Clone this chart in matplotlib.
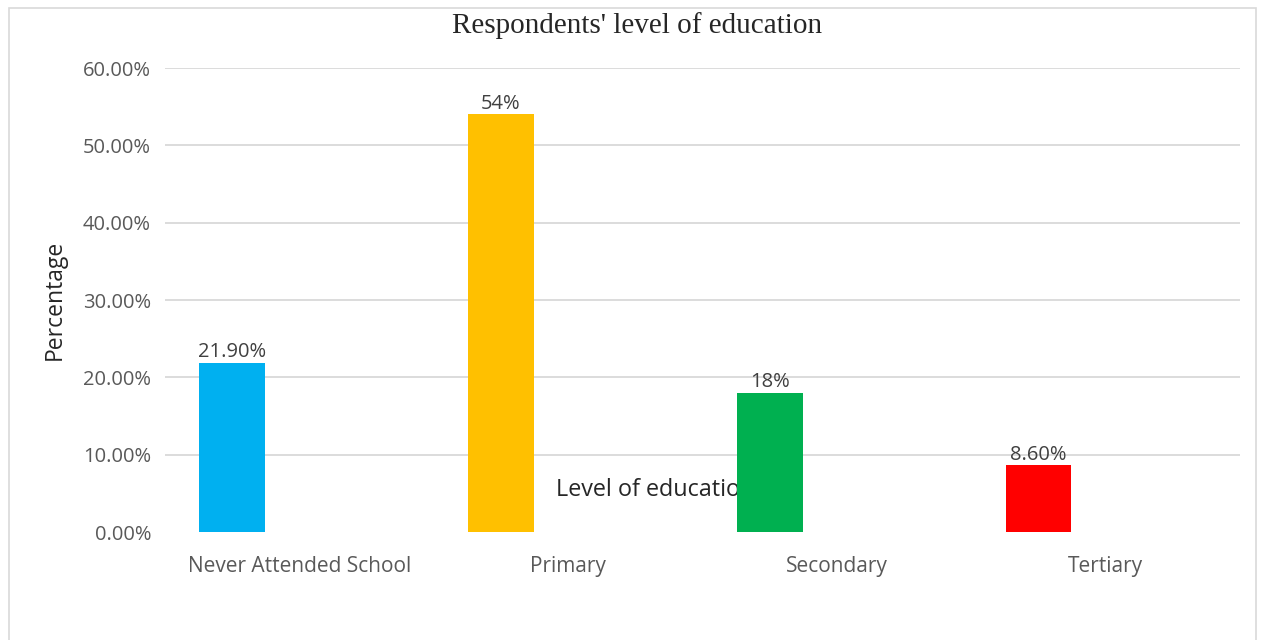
import matplotlib
matplotlib.use("Agg")
import matplotlib.pyplot as plt
from matplotlib.patches import Rectangle
from matplotlib.ticker import FixedLocator, FixedFormatter

categories = ["Never Attended School", "Primary", "Secondary", "Tertiary"]
values = [21.9, 54.0, 18.0, 8.6]
value_labels = ["21.90%", "54%", "18%", "8.60%"]
colors = ["#00B0F0", "#FFC000", "#00B050", "#FF0000"]
yticks = [0, 10, 20, 30, 40, 50, 60]
ytick_labels = ["0.00%", "10.00%", "20.00%", "30.00%", "40.00%", "50.00%", "60.00%"]

plt.rcParams['font.family'] = ['Open Sans', 'DejaVu Sans']

fig = plt.figure(figsize=(12.65, 6.4), dpi=100)
fig.patch.set_facecolor("white")
fig.add_artist(Rectangle((9/1265, -0.05), (1256-9)/1265, 1.05 - 8/640,
                         transform=fig.transFigure, fill=False,
                         edgecolor="#D9D9D9", lw=1.2))

ax = fig.add_axes([165/1265, 1-532/640, (1240-165)/1265, (532-68)/640])
x = list(range(len(categories)))
bx = [i - 0.25 for i in x]
bars = ax.bar(bx, values, width=0.245, color=colors, zorder=3)
for xi, v, lab in zip(bx, values, value_labels):
    ax.text(xi, v + 0.1, lab, ha="center", va="bottom", fontsize=14.5,
            color="#404040", zorder=4)

ax.set_xlim(-0.5, 3.5)
ax.set_ylim(0, 60)
ax.yaxis.set_major_locator(FixedLocator(yticks))
ax.yaxis.set_major_formatter(FixedFormatter(ytick_labels))
ax.set_xticks(x)
ax.set_xticklabels(categories)
ax.tick_params(axis="both", length=0, labelsize=14.5, labelcolor="#595959")
ax.tick_params(axis="x", pad=17, labelsize=15)
ax.tick_params(axis="y", pad=10)
for s in ax.spines.values():
    s.set_visible(False)
ax.grid(axis="y", color="#D9D9D9", lw=1.3, zorder=0)
ax.set_axisbelow(True)
fig.canvas.draw()
ax.yaxis.get_gridlines()[0].set_visible(False)

ax.set_ylabel("Percentage", fontsize=16.5, color="#262626", labelpad=12)

ax.text(0.955, 5.4, "Level of education", ha="left", va="center",
        fontsize=16.8, color="#262626", zorder=1)

fig.text(637/1265, 1-26/640, "Respondents' level of education", ha="center",
         va="center", fontsize=21, family="Liberation Serif", color="#262626")

fig.savefig("out.png", dpi=100, facecolor="white")
